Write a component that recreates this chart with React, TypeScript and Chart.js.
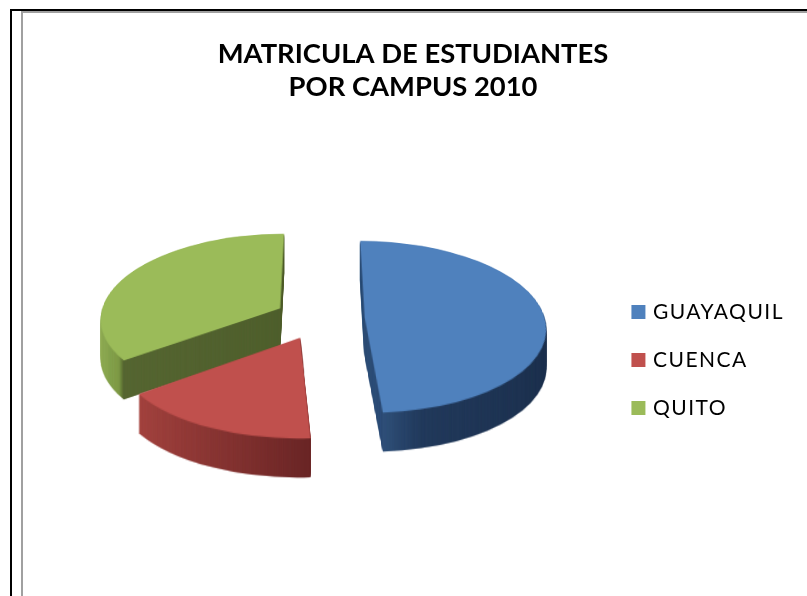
import React, { useEffect, useRef } from 'react';
import { Chart, registerables } from 'chart.js';

Chart.register(...registerables);

// ---- data ----
const TITLE_LINES = ['MATRICULA DE ESTUDIANTES', 'POR CAMPUS 2010'];
const CAMPUSES = ['GUAYAQUIL', 'CUENCA', 'QUITO'];
const SHARES = [49, 16, 35];

// ---- styles ----
const TOP_COLORS = ['#4F81BD', '#C0504D', '#9BBB59'];
// side gradient range, relative to pie centre in units of radius (pre-explosion)
const SIDE_RANGE: [number, number][] = [
  [0.07, 1.0],
  [-0.81, 0.07],
  [-1.0, 0.0],
];
const SIDE_STOPS: [number, string][][] = [
  [[0, '#2F4F78'], [0.2, '#223A5C'], [1, '#1D314E']],
  [[0, '#A3433F'], [1, '#6A2626']],
  [[0, '#93B058'], [0.16, '#7D9946'], [0.19, '#566632'], [1, '#4F5F2D']],
];
const TILT = 0.472; // vertical squash of the pie plane
const PERSP = 0.11; // perspective strength (front larger than back)
const DEPTH = 39;
const EXPLODE = 45;
const LEGEND_LETTER_SPACING = '1.5px';

const mid = (a: any) => (a.startAngle + a.endAngle) / 2;
let srcCanvas: HTMLCanvasElement | null = null;
let tmpCanvas: HTMLCanvasElement | null = null;

function warp(
  src: HTMLCanvasElement,
  dst: CanvasRenderingContext2D,
  cx: number,
  cy: number,
  A: number,
  W: number,
  H: number
) {
  dst.save();
  dst.imageSmoothingEnabled = true;
  for (let Y = 0; Y < H; Y++) {
    const t = Y + 0.5 - cy;
    const z = t / (A + PERSP * t);
    const sy = cy + A * z - 0.5;
    if (sy < 0 || sy > H - 1) continue;
    const s = 1 / (1 - PERSP * z);
    dst.drawImage(src, 0, sy, W, 1, cx - s * cx, Y, s * W, 1);
  }
  dst.restore();
}

const pie3d = {
  id: 'pie3d',
  beforeLayout(chart: any) {
    chart.ctx.letterSpacing = LEGEND_LETTER_SPACING;
  },
  afterLayout(chart: any) {
    chart.ctx.letterSpacing = '0px';
    const lg = chart.legend;
    if (lg && !lg.__spaced) {
      const orig = lg.draw.bind(lg);
      lg.draw = (...args: any[]) => {
        chart.ctx.save();
        chart.ctx.letterSpacing = LEGEND_LETTER_SPACING;
        orig(...args);
        chart.ctx.restore();
      };
      lg.__spaced = true;
    }
  },
  beforeDatasetsDraw(chart: any) {
    const meta = chart.getDatasetMeta(0);
    const arcs = meta.data;
    if (!arcs.length) return;
    const W = chart.width;
    const H = chart.height;
    if (!srcCanvas) srcCanvas = document.createElement('canvas');
    if (!tmpCanvas) tmpCanvas = document.createElement('canvas');
    srcCanvas.width = W;
    srcCanvas.height = H;
    tmpCanvas.width = W;
    tmpCanvas.height = H;
    const sctx = srcCanvas.getContext('2d') as CanvasRenderingContext2D;
    const tctx = tmpCanvas.getContext('2d') as CanvasRenderingContext2D;
    const ctx = chart.ctx as CanvasRenderingContext2D;
    const cx = arcs[0].x;
    const cy = arcs[0].y;
    const R = arcs[0].outerRadius;
    const A = R * TILT;
    const order = arcs
      .map((_: any, i: number) => i)
      .sort((i: number, j: number) => Math.sin(mid(arcs[i])) - Math.sin(mid(arcs[j])));

    const tilted = (fn: () => void) => {
      sctx.save();
      sctx.translate(cx, cy);
      sctx.scale(1, TILT);
      sctx.translate(-cx, -cy);
      fn();
      sctx.restore();
    };
    const drawArc = (arc: any) => {
      const m = mid(arc);
      sctx.save();
      sctx.translate(Math.cos(m) * EXPLODE, Math.sin(m) * EXPLODE);
      arc.draw(sctx);
      sctx.restore();
    };

    // sides, back to front
    for (const i of order) {
      const arc = arcs[i];
      sctx.clearRect(0, 0, W, H);
      tilted(() => {
        const [a, b] = SIDE_RANGE[i];
        const g = sctx.createLinearGradient(cx + a * R, 0, cx + b * R, 0);
        SIDE_STOPS[i].forEach(([p, c]) => g.addColorStop(p, c));
        const base = arc.options;
        arc.options = { ...base, backgroundColor: g, borderWidth: 0 };
        drawArc(arc);
        arc.options = base;
      });
      tctx.clearRect(0, 0, W, H);
      warp(srcCanvas, tctx, cx, cy, A, W, H);
      for (let d = DEPTH; d >= 1; d--) ctx.drawImage(tmpCanvas, 0, d);
    }
    // top faces
    sctx.clearRect(0, 0, W, H);
    tilted(() => {
      for (const i of order) drawArc(arcs[i]);
    });
    warp(srcCanvas, ctx, cx, cy, A, W, H);
    return false;
  },
};

export default function App() {
  const ref = useRef<HTMLCanvasElement>(null);
  useEffect(() => {
    const chart = new Chart(ref.current as HTMLCanvasElement, {
      type: 'pie',
      data: {
        labels: CAMPUSES,
        datasets: [
          {
            data: SHARES,
            backgroundColor: TOP_COLORS,
            borderWidth: 0,
            radius: 180,
          } as any,
        ],
      },
      options: {
        responsive: false,
        animation: false,
        layout: { padding: { left: 8, right: 13, top: 0, bottom: 150.5 } },
        plugins: {
          tooltip: { enabled: false },
          title: {
            display: true,
            text: TITLE_LINES,
            color: '#000',
            font: { family: 'Lato', size: 27.4, weight: 'bold', lineHeight: 33 / 27.4 },
            padding: { top: 25, bottom: 86.5 },
          },
          legend: {
            display: true,
            position: 'right',
            align: 'end',
            labels: {
              color: '#000',
              font: { family: 'Lato', size: 21 },
              boxWidth: 8,
              boxHeight: 8,
              padding: 27,
              generateLabels: () =>
                CAMPUSES.map((t, i) => ({
                  text: t,
                  fillStyle: TOP_COLORS[i],
                  strokeStyle: TOP_COLORS[i],
                  lineWidth: 6,
                  hidden: false,
                  index: i,
                  datasetIndex: 0,
                })),
            },
          },
        },
      },
      plugins: [pie3d],
    });
    return () => chart.destroy();
  }, []);
  return (
    <div>
      <div
        style={{
          position: 'fixed',
          left: 10,
          top: 9,
          width: 830,
          height: 640,
          borderLeft: '2px solid #000',
          borderTop: '2px solid #000',
        }}
      />
      <div
        style={{
          position: 'fixed',
          left: 21,
          top: 11,
          width: 830,
          height: 640,
          borderLeft: '2px solid #A0A0A0',
          borderTop: '2px solid #A0A0A0',
        }}
      />
      <canvas
        ref={ref}
        width={783}
        height={583}
        style={{ position: 'fixed', left: 24, top: 13 }}
      />
    </div>
  );
}
